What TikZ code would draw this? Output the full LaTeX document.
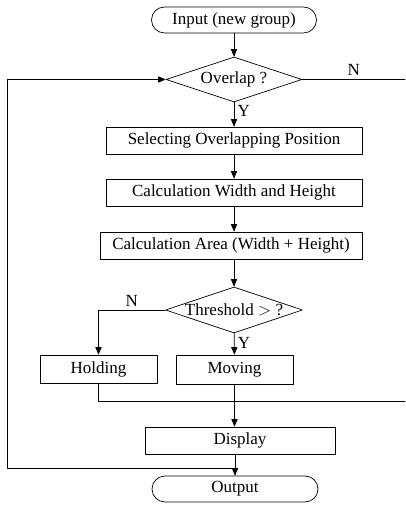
\documentclass[tikz,border=0pt]{standalone}
\usepackage{fontspec}
\setmainfont{Liberation Serif}
\usepackage{tikz}
\usetikzlibrary{arrows}
\usetikzlibrary{positioning}
\usetikzlibrary{shapes.geometric}

\tikzset{
  procbox/.style={draw,line width=0.7pt,minimum height=27pt,inner sep=0pt},
  decide/.style={draw,diamond,line width=0.7pt,aspect=3,inner sep=0pt},
  terminal/.style={draw,rectangle,rounded corners=13pt,line width=0.7pt,minimum height=26pt,inner sep=0pt},
  flow/.style={line width=0.7pt},
  branch/.style={font=\fontsize{17}{20}\selectfont}
}

\begin{document}
\begin{tikzpicture}[line cap=round,line join=round,>=triangle 45,x=1pt,y=1pt,
  font=\fontsize{17}{20}\selectfont]
\useasboundingbox (0,0) rectangle (405,508);
% terminals
\node [terminal,minimum width=165pt] (input) at (234,488) {Input (new group)};
\node [terminal,minimum width=166pt] (output) at (235,19) {Output};
% decisions
\node [decide,minimum width=136pt,minimum height=45pt] (overlap) at (234,428.5) {Overlap ?};
\node [decide,minimum width=137pt,minimum height=46pt] (threshold) at (234,198) {Threshold $>$ ?};
% steps
\node [procbox,minimum width=256pt] (select) at (234,367.5) {Selecting Overlapping Position};
\node [procbox,minimum width=256pt] (calcwh) at (234,315.5) {Calculation Width and Height};
\node [procbox,minimum width=262pt] (calcarea) at (231,262.5) {Calculation Area (Width + Height)};
\node [procbox,minimum width=117pt,minimum height=28pt] (holding) at (98.5,139) {Holding};
\node [procbox,minimum width=117pt,minimum height=29pt] (moving) at (234.5,138.5) {Moving};
\node [procbox,minimum width=190pt] (display) at (240,67.5) {Display};
% free ends
\coordinate (nright) at (405,428.5);
\coordinate (joinright) at (405,107);
\coordinate (loopleft) at (7,40);
% connectors
\draw [flow,->] (input) -- (overlap);
\draw [flow,->] (overlap) -- node[branch,pos=0.35,right] {Y} (overlap.south |- select.north);
\draw [flow] (overlap.east) -- node[branch,above] {N} (nright);
\draw [flow,->] (select) -- (select.south |- calcwh.north);
\draw [flow,->] (calcwh) -- (calcwh.south |- calcarea.north);
\draw [flow,->] (calcarea.south -| threshold) -- (threshold);
\draw [flow,->] (threshold.west) -| node[branch,pos=0.25,above] {N} (holding.north);
\draw [flow,->] (threshold) -- node[branch,pos=0.45,right] {Y} (moving);
\draw [flow] (holding.south) |- (joinright);
\draw [flow,->] (moving.south) -- (moving.south |- display.north);
\draw [flow,->] (output.north |- display.south) -- (output.north);
\draw [flow,->] (loopleft -| output) -- (loopleft) |- (overlap.west);
\end{tikzpicture}
\end{document}
